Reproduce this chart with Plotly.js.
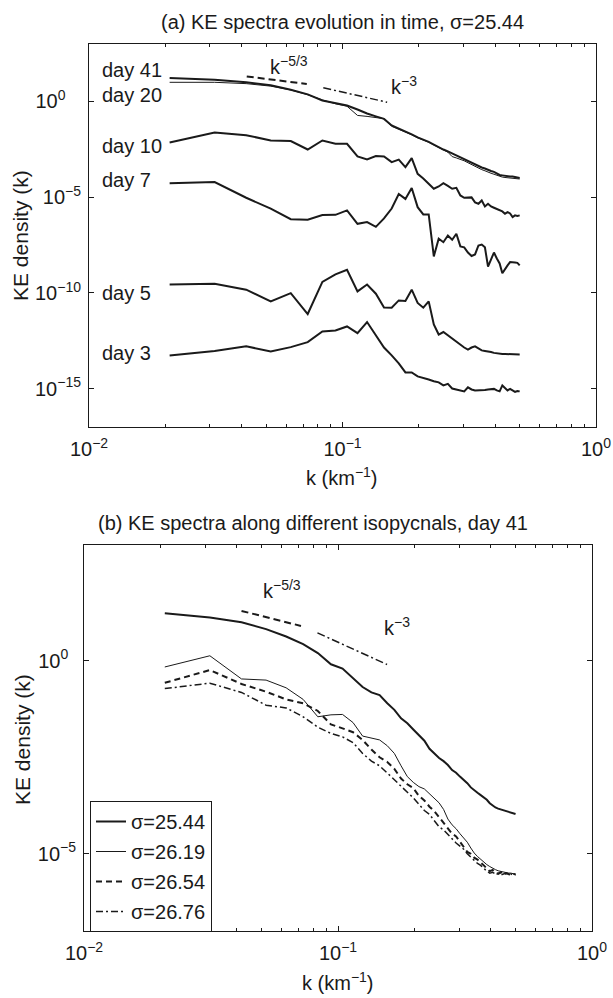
<!DOCTYPE html>
<html>
<head>
<meta charset="utf-8">
<script src="https://cdn.plot.ly/plotly-3.0.1.min.js"></script>
<style>html,body{margin:0;padding:0;background:#fff}#chart{width:613px;height:998px}</style>
</head>
<body>
<div id="chart"></div>
<script>
// wavenumber k (km^-1)
const k = [0.0208,0.0313,0.0417,0.0521,0.0625,0.0729,0.0833,0.0938,0.1042,0.1146,0.125,0.1354,0.1458,0.1563,0.1667,0.1771,0.1875,0.1979,0.2083,0.2188,0.2292,0.2396,0.25,0.2604,0.2708,0.2813,0.2917,0.3021,0.3125,0.3229,0.3333,0.3438,0.3542,0.3646,0.375,0.3854,0.3958,0.4063,0.4167,0.4271,0.4375,0.4479,0.4583,0.4688,0.4792,0.4896,0.5];

// (a) log10 of KE density, sigma = 25.44
const day41 = [1.22,1.13,1.0,0.84,0.61,0.37,0.05,-0.09,-0.21,-0.42,-0.63,-0.78,-0.91,-1.25,-1.41,-1.57,-1.72,-1.88,-1.98,-2.11,-2.25,-2.40,-2.51,-2.61,-2.72,-2.82,-2.92,-3.0,-3.08,-3.19,-3.29,-3.37,-3.45,-3.50,-3.58,-3.63,-3.68,-3.76,-3.84,-3.86,-3.89,-3.89,-3.92,-3.92,-3.94,-3.97,-4.0];
const day20 = [1.0,1.0,0.93,0.8,0.6,0.35,0.08,-0.12,-0.25,-0.73,-0.78,-0.83,-0.9,-1.3,-1.45,-1.6,-1.74,-1.9,-2.0,-2.13,-2.27,-2.42,-2.53,-2.65,-2.88,-2.95,-3.02,-3.1,-3.2,-3.3,-3.4,-3.48,-3.56,-3.62,-3.7,-3.75,-3.8,-3.86,-3.92,-3.95,-3.97,-3.98,-3.99,-4.0,-4.0,-4.02,-4.05];
const day10 = [-2.14,-1.62,-1.76,-2.04,-2.07,-2.51,-2.04,-2.21,-2.21,-2.87,-3.03,-2.85,-2.87,-3.17,-3.04,-3.43,-2.96,-3.78,-4.02,-4.28,-4.56,-4.44,-4.27,-4.41,-4.56,-4.51,-4.91,-5.03,-5.0,-5.01,-5.27,-5.34,-5.17,-5.48,-5.34,-5.48,-5.55,-5.61,-5.69,-5.74,-5.86,-5.78,-5.85,-6.04,-5.95,-5.98,-5.95];
const day7 = [-4.27,-4.21,-5.03,-5.6,-6.15,-6.18,-5.93,-5.92,-5.69,-6.39,-6.30,-6.55,-6.11,-5.59,-4.83,-5.09,-4.52,-5.52,-5.90,-5.90,-8.09,-7.17,-7.35,-7.0,-7.22,-6.91,-7.57,-7.62,-7.89,-8.07,-7.99,-7.52,-7.47,-7.62,-8.62,-8.2,-7.89,-8.2,-8.46,-8.97,-8.74,-8.56,-8.39,-8.39,-8.41,-8.43,-8.56];
const day5 = [-9.56,-9.52,-9.83,-10.44,-10.01,-11.1,-9.42,-9.03,-8.79,-9.92,-9.56,-10.04,-10.76,-10.77,-10.39,-10.42,-9.83,-10.52,-10.77,-10.44,-11.64,-12.17,-12.04,-12.22,-12.38,-12.53,-12.69,-12.85,-12.96,-12.85,-12.79,-12.9,-13.0,-13.03,-13.05,-13.08,-13.13,-13.16,-13.17,-13.19,-13.19,-13.2,-13.2,-13.2,-13.21,-13.21,-13.21];
const day3 = [-13.26,-13.03,-12.79,-13.05,-12.83,-12.57,-12.01,-11.96,-11.75,-12.1,-11.52,-12.22,-12.85,-13.26,-13.68,-14.15,-14.15,-14.36,-14.43,-14.52,-14.61,-14.67,-14.83,-14.75,-14.99,-15.04,-15.09,-15.14,-14.93,-15.04,-15.09,-15.09,-15.07,-15.07,-15.04,-15.04,-15.01,-15.09,-15.14,-14.83,-14.99,-15.09,-15.01,-15.09,-15.17,-15.12,-15.14];

// (b) log10 of KE density, day 41
const s2544 = [1.23,1.12,1.0,0.82,0.63,0.43,0.2,-0.09,-0.2,-0.45,-0.68,-0.82,-0.89,-1.1,-1.27,-1.49,-1.62,-1.78,-1.94,-2.07,-2.28,-2.4,-2.52,-2.6,-2.7,-2.83,-2.9,-3.0,-3.08,-3.17,-3.28,-3.36,-3.42,-3.48,-3.53,-3.6,-3.69,-3.75,-3.8,-3.83,-3.85,-3.87,-3.88,-3.9,-3.92,-3.95,-3.97];
const s2619 = [-0.16,0.13,-0.47,-0.5,-0.7,-1.0,-1.45,-1.4,-1.39,-1.6,-1.95,-2.0,-2.05,-2.2,-2.4,-2.72,-3.0,-3.15,-3.26,-3.32,-3.45,-3.58,-3.68,-3.85,-4.1,-4.25,-4.35,-4.48,-4.6,-4.7,-4.85,-4.98,-5.07,-5.15,-5.22,-5.28,-5.33,-5.38,-5.41,-5.44,-5.46,-5.47,-5.48,-5.5,-5.5,-5.52,-5.53];
const s2654 = [-0.57,-0.24,-0.6,-0.8,-1.0,-1.1,-1.3,-1.65,-1.75,-1.85,-2.05,-2.3,-2.5,-2.62,-2.8,-3.05,-3.2,-3.3,-3.5,-3.62,-3.78,-3.9,-4.05,-4.2,-4.32,-4.48,-4.55,-4.68,-4.8,-4.95,-5.0,-5.1,-5.15,-5.22,-5.3,-5.38,-5.45,-5.42,-5.5,-5.52,-5.48,-5.55,-5.5,-5.52,-5.56,-5.52,-5.53];
const s2676 = [-0.72,-0.58,-0.82,-1.15,-1.22,-1.45,-1.72,-1.88,-1.97,-2.12,-2.4,-2.6,-2.72,-2.92,-3.08,-3.25,-3.4,-3.55,-3.72,-3.88,-3.98,-4.15,-4.3,-4.38,-4.5,-4.62,-4.72,-4.8,-4.88,-5.0,-5.08,-5.18,-5.25,-5.3,-5.38,-5.45,-5.5,-5.48,-5.52,-5.5,-5.55,-5.53,-5.5,-5.55,-5.52,-5.56,-5.54];

// reference slopes (endpoints)
const refA53k = [0.0419, 0.0723], refA53v = [20.2, 8.1];
const refA3k = [0.084, 0.150], refA3v = [5.2, 0.91];
const refB53k = [0.0417, 0.0715], refB53v = [19.6, 8.0];
const refB3k = [0.083, 0.156], refB3v = [5.3, 0.80];

const dayNames = ['day 41','day 20','day 10','day 7','day 5','day 3'];
const sigmaNames = ['σ=25.44','σ=26.19','σ=26.54','σ=26.76'];

const xTickVals = [0.01, 0.1, 1];
const xTickText = ['10<sup>−2</sup>','10<sup>−1</sup>','10<sup>0</sup>'];
const xMinorVals = [0.02,0.03,0.04,0.05,0.06,0.07,0.08,0.09,0.2,0.3,0.4,0.5,0.6,0.7,0.8,0.9];
const yTopVals = [1, 1e-5, 1e-10, 1e-15];
const yTopText = ['10<sup>0\u2007\u2007</sup>','10<sup>−5</sup>','10<sup>−10</sup>','10<sup>−15</sup>'];
const yBotVals = [1, 1e-5];
const yBotText = ['10<sup>0\u2007</sup>','10<sup>−5</sup>'];

const pw = a => a.map(v => Math.pow(10, v));
const INK = '#1a1a1a';
const W = 613, H = 998;
const px = x => x / W, py = y => 1 - y / H;
const FONT = 'Liberation Sans, Arial, Helvetica, sans-serif';

const topSeries = [day41, day20, day10, day7, day5, day3];
const topWidths = [2, 1, 2, 2, 2, 2];
const traces = [];
topSeries.forEach((s, i) => traces.push({
  x: k, y: pw(s), xaxis: 'x', yaxis: 'y', type: 'scatter', mode: 'lines',
  name: dayNames[i], showlegend: false, line: {color: INK, width: topWidths[i]}
}));
traces.push({x: refA53k, y: refA53v, xaxis:'x', yaxis:'y', mode:'lines', showlegend:false, line:{color:INK, width:2, dash:'7px,4px'}});
traces.push({x: refA3k, y: refA3v, xaxis:'x', yaxis:'y', mode:'lines', showlegend:false, line:{color:INK, width:1.5, dash:'8px,3px,2px,3px'}});

const botSeries = [s2544, s2619, s2654, s2676];
const botStyles = [{width:2, dash:'solid'},{width:1, dash:'solid'},{width:2, dash:'6px,4px'},{width:1.5, dash:'7px,3px,2px,3px'}];
botSeries.forEach((s, i) => traces.push({
  x: k, y: pw(s), xaxis: 'x2', yaxis: 'y2', type: 'scatter', mode: 'lines',
  name: sigmaNames[i], legendgroup: 'g' + i, showlegend: true,
  line: {color: INK, width: botStyles[i].width, dash: botStyles[i].dash}
}));
traces.push({x: refB53k, y: refB53v, xaxis:'x2', yaxis:'y2', mode:'lines', showlegend:false, line:{color:INK, width:2, dash:'7px,4px'}});
traces.push({x: refB3k, y: refB3v, xaxis:'x2', yaxis:'y2', mode:'lines', showlegend:false, line:{color:INK, width:1.5, dash:'8px,3px,2px,3px'}});

function xAxis(domain, anchor) {
  return {
    type: 'log', range: [-2, 0], domain: domain, anchor: anchor,
    showline: true, linecolor: INK, linewidth: 1, mirror: 'ticks',
    ticks: 'inside', ticklen: 5, tickwidth: 1, tickcolor: INK,
    tickmode: 'array', tickvals: xTickVals, ticktext: xTickText,
    minor: {ticks: 'inside', ticklen: 3, tickwidth: 1, tickcolor: INK, tickmode: 'array', tickvals: xMinorVals, showgrid: false},
    showgrid: false, zeroline: false, ticklabelstandoff: 4,
    tickfont: {family: FONT, size: 20, color: INK}
  };
}
function yAxis(domain, anchor, range, vals, text) {
  return {
    type: 'log', range: range, domain: domain, anchor: anchor,
    showline: true, linecolor: INK, linewidth: 1, mirror: 'ticks',
    ticks: 'inside', ticklen: 5, tickwidth: 1, tickcolor: INK,
    tickmode: 'array', tickvals: vals, ticktext: text,
    showgrid: false, zeroline: false, ticklabelstandoff: 3,
    tickfont: {family: FONT, size: 20, color: INK}
  };
}

const ann = [];
function addText(text, x, y, opts) {
  ann.push(Object.assign({text: text, xref: 'paper', yref: 'paper', x: px(x), y: py(y),
    showarrow: false, xanchor: 'center', yanchor: 'middle',
    font: {family: FONT, size: 20, color: INK}}, opts || {}));
}
addText('(a) KE spectra evolution in time, σ=25.44', 342, 22);
addText('(b) KE spectra along different isopycnals, day 41', 313, 523);
addText('KE density (k)', 20, 236, {textangle: -90, font: {family: FONT, size: 21, color: INK}});
addText('KE density (k)', 22, 740, {textangle: -90, font: {family: FONT, size: 21, color: INK}});
addText('k (km<sup>−1</sup>)', 342, 476);
addText('k (km<sup>−1</sup>)', 338, 981);
const dayY = [70, 95, 146, 180, 293, 353];
dayNames.forEach((d, i) => addText(d, 100, dayY[i], {xanchor: 'left'}));
addText('k<sup>−5/3</sup>', 268, 66, {xanchor: 'left'});
addText('k<sup>−3</sup>', 389, 86, {xanchor: 'left'});
addText('k<sup>−5/3</sup>', 261, 589, {xanchor: 'left'});
addText('k<sup>−3</sup>', 382, 626, {xanchor: 'left'});

const layout = {
  width: W, height: H,
  margin: {l: 0, r: 0, t: 0, b: 0},
  paper_bgcolor: '#fff', plot_bgcolor: '#fff',
  font: {family: FONT, color: INK},
  xaxis: xAxis([px(89), px(596)], 'y'),
  yaxis: yAxis([py(427), py(44)], 'x', [-17, 3], yTopVals, yTopText),
  xaxis2: xAxis([px(84), px(592)], 'y2'),
  yaxis2: yAxis([py(931), py(545)], 'x2', [-7, 3], yBotVals, yBotText),
  showlegend: true,
  legend: {x: px(90), y: py(801), xanchor: 'left', yanchor: 'top',
    bgcolor: '#fff', bordercolor: INK, borderwidth: 1,
    font: {family: FONT, size: 20, color: INK}, tracegroupgap: 1, itemwidth: 30},
  annotations: ann
};

Plotly.newPlot('chart', traces, layout, {staticPlot: true, displayModeBar: false});
</script>
</body>
</html>
